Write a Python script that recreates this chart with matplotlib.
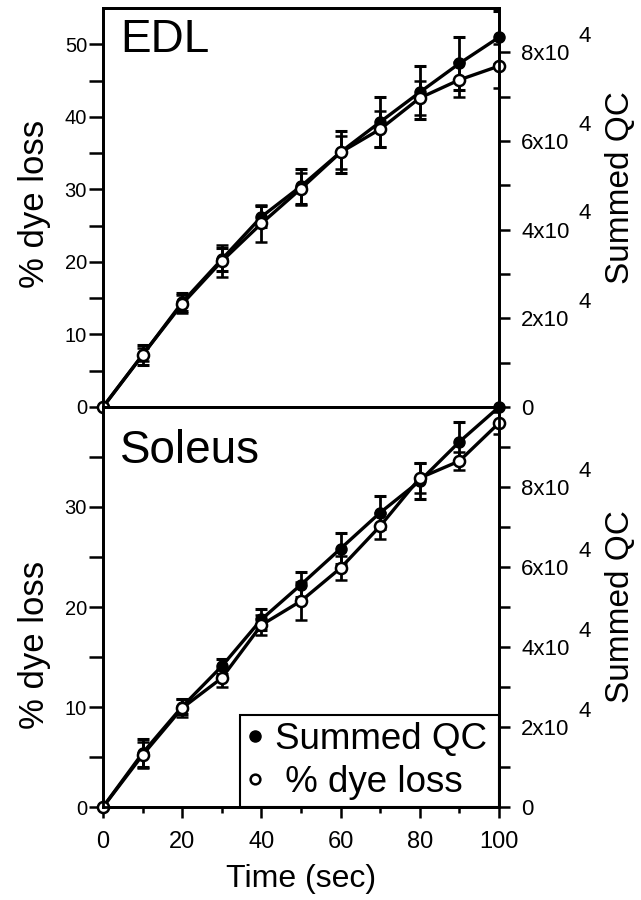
import matplotlib
matplotlib.use('Agg')
import matplotlib.pyplot as plt
from matplotlib.ticker import MultipleLocator, FixedLocator, FuncFormatter
from matplotlib.lines import Line2D

plt.rcParams['font.family'] = ['Liberation Sans', 'DejaVu Sans']

# Время, с
time_s = [0, 10, 20, 30, 40, 50, 60, 70, 80, 90, 100]

# EDL
edl_dye = [0, 7.2, 14.2, 20.1, 25.3, 30.1, 35.1, 38.3, 42.6, 45.1, 47.0]
edl_dye_err = [0, 0.9, 1.3, 2.2, 2.5, 2.2, 2.3, 2.5, 2.4, 2.4, 3.0]
edl_qc = [0, 1.17e4, 2.36e4, 3.33e4, 4.29e4, 4.98e4, 5.75e4, 6.43e4, 7.10e4, 7.75e4, 8.34e4]
edl_qc_err = [0, 2.2e3, 2.0e3, 2.6e3, 2.4e3, 3.9e3, 4.7e3, 5.6e3, 6.0e3, 5.9e3, 6.0e3]

# Soleus
sol_dye = [0, 5.2, 9.9, 12.9, 18.2, 20.6, 23.9, 28.1, 32.9, 34.6, 38.4]
sol_dye_err = [0, 1.3, 0.9, 0.9, 1.0, 1.9, 1.2, 1.3, 1.5, 0.9, 1.1]
sol_qc = [0, 1.35e4, 2.51e4, 3.52e4, 4.69e4, 5.56e4, 6.46e4, 7.36e4, 8.15e4, 9.13e4, 1.0e5]
sol_qc_err = [0, 3.5e3, 1.9e3, 1.9e3, 2.7e3, 3.1e3, 3.8e3, 4.2e3, 4.4e3, 5.0e3, 4.0e3]

qc_major = [0, 2e4, 4e4, 6e4, 8e4]


def qc_fmt(v, pos):
	if v == 0:
		return '0'
	return f'{int(round(v / 1e4))}x10'


def draw_panel(ax_q, ax_d, qc, qc_err, dye, dye_err, dye_lim, qc_lim,
				dye_major, dye_minor, qc_minor, name, name_y, dye_lab_y, qc_lab_y):
	# Summed QC (закрашенные) - снизу, % dye loss (пустые) - сверху
	cont = ax_q.errorbar(time_s, qc, yerr=qc_err, fmt='-o', color='black',
						 mfc='black', mec='black', ms=8, lw=2.4,
						 elinewidth=2, capsize=4.5, capthick=2.2)
	cont[0].set_clip_on(False)
	cont = ax_d.errorbar(time_s, dye, yerr=dye_err, fmt='-o', color='black',
						 mfc='white', mec='black', mew=1.8, ms=8, lw=2.4,
						 elinewidth=2, capsize=4.5, capthick=2.2)
	cont[0].set_clip_on(False)

	ax_q.set_xlim(0, 100)
	ax_q.set_ylim(*qc_lim)
	ax_d.set_ylim(*dye_lim)

	# оси местами: QC справа, % слева
	ax_q.yaxis.tick_right()
	ax_d.yaxis.tick_left()

	ax_d.yaxis.set_major_locator(FixedLocator(dye_major))
	ax_d.yaxis.set_minor_locator(FixedLocator(dye_minor))
	ax_d.tick_params(axis='y', which='both', length=10, width=1.8,
					 labelsize=14.5, pad=1.5)

	ax_q.yaxis.set_major_locator(FixedLocator(qc_major))
	ax_q.yaxis.set_minor_locator(FixedLocator(qc_minor))
	ax_q.yaxis.set_major_formatter(FuncFormatter(qc_fmt))
	ax_q.tick_params(axis='y', which='both', length=8, width=1.8,
					 labelsize=16, pad=8)

	# степень "4" отдельным текстом, как в оригинале
	for v in qc_major[1:]:
		ax_q.annotate('4', xy=(1, v), xycoords=('axes fraction', 'data'),
					  xytext=(57, 11.5), textcoords='offset points',
					  fontsize=16, ha='left', va='center', annotation_clip=False)

	for ax in (ax_q, ax_d):
		for sp in ax.spines.values():
			sp.set_linewidth(2)

	ax_d.text(-0.174, dye_lab_y, '% dye loss', transform=ax_d.transAxes,
			  rotation=90, ha='center', va='center', fontsize=25)
	ax_d.text(1.306, qc_lab_y, 'Summed QC', transform=ax_d.transAxes,
			  rotation=90, ha='center', va='center', fontsize=24)
	ax_d.text(0.043, name_y, name, transform=ax_d.transAxes,
			  ha='left', va='baseline', fontsize=33)


fig = plt.figure(figsize=(6.41, 9.0), dpi=100)

ax_q_top = fig.add_axes([0.1607, 0.5478, 0.6178, 0.4433])
ax_d_top = ax_q_top.twinx()
ax_q_bot = fig.add_axes([0.1607, 0.1033, 0.6178, 0.4445])
ax_d_bot = ax_q_bot.twinx()

draw_panel(ax_q_top, ax_d_top, edl_qc, edl_qc_err, edl_dye, edl_dye_err,
		   (0, 55), (0, 9e4), [0, 10, 20, 30, 40, 50], [5, 15, 25, 35, 45],
		   [1e4, 3e4, 5e4, 7e4], 'EDL', 0.89, 0.51, 0.55)
draw_panel(ax_q_bot, ax_d_bot, sol_qc, sol_qc_err, sol_dye, sol_dye_err,
		   (0, 40), (0, 1e5), [0, 10, 20, 30], [5, 15, 25, 35],
		   [1e4, 3e4, 5e4, 7e4, 9e4], 'Soleus', 0.86, 0.405, 0.50)

# ось времени
ax_q_top.xaxis.set_major_locator(MultipleLocator(10))
ax_q_top.tick_params(axis='x', length=7.5, width=1.8, labelbottom=False)
ax_q_bot.xaxis.set_major_locator(MultipleLocator(20))
ax_q_bot.xaxis.set_minor_locator(MultipleLocator(10))
ax_q_bot.tick_params(axis='x', which='major', length=8, width=1.8,
					 labelsize=17, pad=9)
ax_q_bot.tick_params(axis='x', which='minor', length=4.5, width=1.8)
ax_q_bot.set_xlabel('Time (sec)', fontsize=23)
ax_q_bot.xaxis.set_label_coords(0.5, -0.143)

# легенда
handles = [Line2D([], [], marker='o', color='black', ls='none', ms=8),
		   Line2D([], [], marker='o', color='black', mfc='white', mew=1.8,
				  ls='none', ms=7)]
leg = ax_d_bot.legend(handles, ['Summed QC', ' % dye loss'],
					  loc='lower left', bbox_to_anchor=(0.346, 0.0, 0.654, 0.3),
					  mode='expand', borderaxespad=0, fontsize=26.5,
					  handlelength=0.4, handletextpad=0.35, borderpad=0.2,
					  labelspacing=0.2, fancybox=False, framealpha=1)
leg.get_frame().set_edgecolor('black')
leg.get_frame().set_linewidth(1.5)

plt.savefig('out.png', dpi=100)
